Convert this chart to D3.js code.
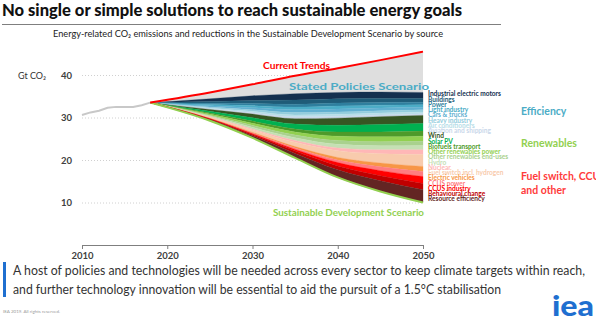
<!DOCTYPE html>
<html>
<head>
<meta charset="utf-8">
<script src="https://cdn.jsdelivr.net/npm/d3@7"></script>
<style>
  body { margin: 0; background: #fff; }
  svg { display: block; font-family: Lato, "Open Sans", sans-serif; }
</style>
</head>
<body>
<div id="chart"></div>
<script>
// historical emissions
var histYears = [2010, 2011, 2012, 2013, 2014, 2015, 2016, 2017, 2018];
var histValues = [30.6, 31.2, 31.6, 32.3, 32.5, 32.5, 32.5, 32.9, 33.5];

// scenario years
var years = [2018, 2025, 2030, 2035, 2040, 2045, 2050];
var currentTrends = [33.5, 35.9, 37.8, 39.8, 41.6, 43.5, 45.5];
var statedPolicies = [33.5, 34.4, 35.1, 35.6, 35.9, 36.0, 35.9];

// reductions (Gt) from Stated Policies to SDS, per measure
var efficiencyNames = ["Industrial electric motors", "Buildings", "Power", "Light industry",
	"Cars & trucks", "Heavy industry", "Air conditioners", "Aviation and shipping"];
var efficiencyCuts = [
	[0, 0.65, 1.1, 1.5, 1.5, 1.5, 1.4],
	[0, 0.4, 0.7, 1.0, 1.0, 0.95, 0.9],
	[0, 0.3, 0.5, 0.65, 0.7, 0.65, 0.6],
	[0, 0.3, 0.5, 0.65, 0.7, 0.65, 0.6],
	[0, 0.3, 0.45, 0.65, 0.7, 0.65, 0.6],
	[0, 0.2, 0.4, 0.55, 0.55, 0.55, 0.5],
	[0, 0.2, 0.35, 0.45, 0.45, 0.45, 0.4],
	[0, 0.15, 0.3, 0.45, 0.45, 0.4, 0.4]
];
var renewableNames = ["Wind", "Solar PV", "Biofuels transport", "Other renewables power",
	"Other renewables end-uses", "Hydro"];
var renewableCuts = [
	[0, 0.45, 0.85, 1.25, 1.7, 1.85, 1.9],
	[0, 0.4, 0.8, 1.15, 1.55, 1.75, 1.8],
	[0, 0.25, 0.5, 0.7, 1.0, 1.15, 1.2],
	[0, 0.25, 0.5, 0.7, 1.0, 1.15, 1.2],
	[0, 0.2, 0.45, 0.65, 0.9, 0.95, 1.0],
	[0, 0.2, 0.4, 0.65, 0.85, 0.95, 1.0]
];
var otherNames = ["Nuclear", "Fuel switch incl. hydrogen", "Electric vehicles", "CCUS power",
	"CCUS industry", "Behavioural change", "Resource efficiency"];
var otherCuts = [
	[0, 0.1, 0.25, 0.45, 0.65, 0.9, 1.1],
	[0, 0.25, 0.55, 1.0, 1.6, 2.2, 2.8],
	[0, 0.05, 0.15, 0.3, 0.6, 0.9, 1.2],
	[0, 0.05, 0.15, 0.35, 0.6, 0.9, 1.2],
	[0, 0.05, 0.2, 0.4, 0.8, 1.2, 1.6],
	[0, 0.15, 0.3, 0.55, 0.9, 1.2, 1.5],
	[0, 0.25, 0.5, 1.05, 1.8, 2.5, 3.0]
];

var xTicks = [2010, 2020, 2030, 2040, 2050];
var yTicks = [10, 20, 30, 40];

var bandColors = [
	"#14304f", "#1f5c78", "#2f7f9e", "#4bacc6", "#5fafd0", "#93cddd", "#b7dee8", "#c9d7ea",
	"#375623", "#00b050", "#4e9a2a", "#92d050", "#a9d18e", "#c5e0b4",
	"#ffb7b7", "#f8cbad", "#f79646", "#ff7c80", "#ff0000", "#c00000", "#632523"
];

var width = 596, height = 323;

var svg = d3.select("#chart").append("svg")
	.attr("width", width)
	.attr("height", height);

// title
svg.append("text")
	.attr("x", 2).attr("y", 16)
	.attr("textLength", 460).attr("lengthAdjust", "spacingAndGlyphs")
	.style("font-size", "16.5px").style("font-weight", 900).style("fill", "#111")
	.text("No single or simple solutions to reach sustainable energy goals");

svg.append("line")
	.attr("x1", 2).attr("x2", 501).attr("y1", 24.5).attr("y2", 24.5)
	.style("stroke", "#7f7f7f").style("stroke-width", 1);

svg.append("text")
	.attr("x", 53).attr("y", 37)
	.attr("textLength", 390).attr("lengthAdjust", "spacingAndGlyphs")
	.style("font-size", "9.5px").style("fill", "#222")
	.text("Energy-related CO\u2082 emissions and reductions in the Sustainable Development Scenario by source");

var x = d3.scaleLinear().domain([2010, 2050]).range([82, 423]);
var y = d3.scaleLinear().domain([0, 40]).range([245, 75]);

// gridlines + y labels
var yAxis = svg.append("g")
	.attr("transform", "translate(82,0)")
	.call(d3.axisLeft(y).tickValues(yTicks).tickSize(-341).tickPadding(10));
yAxis.select(".domain").remove();
yAxis.selectAll(".tick line").style("stroke", "#d0d0d0").style("stroke-dasharray", "1,2");
yAxis.selectAll(".tick text").style("font-size", "9.5px").style("font-weight", "bold")
	.style("fill", "#404040").style("font-family", "Lato, sans-serif");

svg.append("text").attr("x", 18).attr("y", 79)
	.style("font-size", "9px").style("fill", "#333")
	.text("Gt CO\u2082");

// x axis
var xAxis = svg.append("g")
	.attr("transform", "translate(0,245)")
	.call(d3.axisBottom(x).tickValues(xTicks).tickFormat(d3.format("d")).tickSize(4).tickSizeOuter(0).tickPadding(3));
xAxis.select(".domain").style("stroke", "#7f7f7f");
xAxis.selectAll(".tick line").style("stroke", "#7f7f7f");
xAxis.selectAll(".tick text").style("font-size", "9.5px").style("font-weight", "bold")
	.style("fill", "#404040").style("font-family", "Lato, sans-serif");

// stack of reduction wedges
var measures = efficiencyNames.concat(renewableNames, otherNames);
var cuts = efficiencyCuts.concat(renewableCuts, otherCuts);

var rows = years.map(function(yr, i) {
	var r = { year: yr, stated: statedPolicies[i], trend: currentTrends[i] };
	measures.forEach(function(m, k) { r[m] = cuts[k][i]; });
	return r;
});

var series = d3.stack().keys(measures)(rows);

// grey gap between current trends and stated policies
svg.append("path")
	.datum(rows)
	.attr("d", d3.area()
		.x(function(d) { return x(d.year); })
		.y0(function(d) { return y(d.stated); })
		.y1(function(d) { return y(d.trend); })
		.curve(d3.curveMonotoneX))
	.style("fill", "#dedede");

var band = d3.area()
	.x(function(d) { return x(d.data.year); })
	.y0(function(d) { return y(d.data.stated - d[0]); })
	.y1(function(d) { return y(d.data.stated - d[1]); })
	.curve(d3.curveMonotoneX);

svg.append("g").selectAll("path")
	.data(series)
	.enter()
	.append("path")
	.attr("d", band)
	.style("fill", function(d, i) { return bandColors[i]; })
	.style("stroke", function(d, i) { return bandColors[i]; })
	.style("stroke-width", 0.3);

// SDS line (bottom of stack)
var last = series[series.length - 1];
svg.append("path")
	.datum(last)
	.attr("d", d3.line()
		.x(function(d) { return x(d.data.year); })
		.y(function(d) { return y(d.data.stated - d[1]); })
		.curve(d3.curveMonotoneX))
	.style("fill", "none").style("stroke", "#92d050").style("stroke-width", 2);

// history
svg.append("path")
	.datum(histYears)
	.attr("d", d3.line()
		.x(function(d) { return x(d); })
		.y(function(d, i) { return y(histValues[i]); }))
	.style("fill", "none").style("stroke", "#c8c8c8").style("stroke-width", 2);

// current trends line
svg.append("path")
	.datum(rows)
	.attr("d", d3.line()
		.x(function(d) { return x(d.year); })
		.y(function(d) { return y(d.trend); })
		.curve(d3.curveMonotoneX))
	.style("fill", "none").style("stroke", "#ff0000").style("stroke-width", 2);

// scenario labels
function label(txt, lx, ly, col, len) {
	svg.append("text")
		.attr("x", lx).attr("y", ly)
		.attr("textLength", len).attr("lengthAdjust", "spacingAndGlyphs")
		.style("font-size", "9.5px").style("font-weight", "bold").style("fill", col)
		.text(txt);
}
label("Current Trends", 263, 69, "#ff0000", 67);
label("Stated Policies Scenario", 289, 90, "#4bacc6", 140);
label("Sustainable Development Scenario", 273, 216, "#92d050", 151);

// measure labels
var ly = d3.scalePoint().domain(measures).range([94, 199]);
svg.append("g").selectAll("text")
	.data(measures)
	.enter()
	.append("text")
	.attr("transform", function(d) { return "translate(428," + ly(d) + ") scale(0.94,1)"; })
	.attr("dy", "0.35em")
	.style("font-size", "7px").style("font-weight", "bold")
	.style("fill", function(d, i) { return bandColors[i]; })
	.text(function(d) { return d; });

// group labels
function group(txt, gy, col) {
	svg.append("text")
		.attr("x", 521).attr("y", gy)
		.attr("dy", "0.35em")
		.style("font-size", "10.5px").style("font-weight", "bold").style("fill", col)
		.text(txt);
}
group("Efficiency", 111, "#4bacc6");
group("Renewables", 143, "#92d050");
group("Fuel switch, CCUS", 176, "#ff3b3b");
group("and other", 190, "#ff3b3b");

// bottom message
svg.append("rect").attr("x", 3).attr("y", 262).attr("width", 3).attr("height", 35)
	.style("fill", "#1f6fd0");
svg.append("text").attr("x", 13).attr("y", 275)
	.attr("textLength", 572).attr("lengthAdjust", "spacingAndGlyphs")
	.style("font-size", "13px").style("fill", "#333")
	.text("A host of policies and technologies will be needed across every sector to keep climate targets within reach,");
svg.append("text").attr("x", 13).attr("y", 294)
	.attr("textLength", 488).attr("lengthAdjust", "spacingAndGlyphs")
	.style("font-size", "13px").style("fill", "#333")
	.text("and further technology innovation will be essential to aid the pursuit of a 1.5\u00B0C stabilisation");

svg.append("text").attr("x", 3).attr("y", 313)
	.style("font-size", "4.5px").style("fill", "#9a9a9a")
	.text("IEA 2019. All rights reserved.");

svg.append("text").attr("x", 552).attr("y", 316)
	.attr("textLength", 42).attr("lengthAdjust", "spacingAndGlyphs")
	.style("font-size", "28px").style("font-weight", 900).style("fill", "#1f6fd0")
	.text("iea");
</script>
</body>
</html>
